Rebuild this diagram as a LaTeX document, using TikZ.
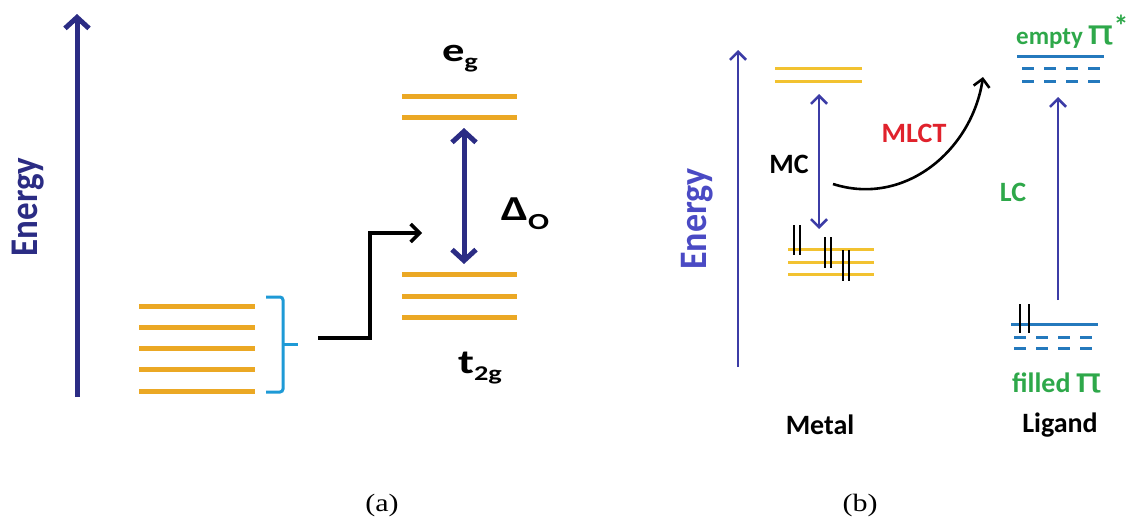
\documentclass[tikz,border=0pt]{standalone}
\usepackage{fontspec}
\setmainfont{Carlito}
\newfontfamily\timesfont{Liberation Serif}
\newfontfamily\pifont{DejaVu Sans}
\usetikzlibrary{arrows.meta}
\definecolor{navyA}{HTML}{2B2C84}
\definecolor{blueB}{HTML}{3C3CA6}
\definecolor{energyB}{HTML}{4A4AC4}
\definecolor{orangeA}{HTML}{EBA824}
\definecolor{yellowB}{HTML}{F2C230}
\definecolor{bracketC}{HTML}{1E9AD6}
\definecolor{ligandC}{HTML}{2479BD}
\definecolor{greenC}{HTML}{2EA84A}
\definecolor{redC}{HTML}{E0222C}
\newcommand{\fsz}[1]{\fontsize{#1}{#1}\selectfont}
\newcommand{\wide}[1]{\scalebox{1.35}[1]{#1}}
\newcommand{\bigpi}{{\pifont\mdseries\fsz{34}\scalebox{1.3}[1]{π}}}
\begin{document}
\begin{tikzpicture}[x=1pt,y=-1pt,
  lvlA/.style={line width=5pt, draw=orangeA},
  lvlB/.style={line width=3pt, draw=yellowB},
  ligsolid/.style={line width=3pt, draw=ligandC},
  ligdash/.style={line width=3pt, draw=ligandC, dash pattern=on 12pt off 10pt},
  bigarrow/.style={line width=5pt, draw=navyA, -{Straight Barb[length=11pt,width=24pt,line width=5pt]}},
  bigdouble/.style={line width=5pt, draw=navyA, {Straight Barb[length=11pt,width=24pt,line width=5pt]}-{Straight Barb[length=11pt,width=24pt,line width=5pt]}},
  thinarrow/.style={line width=2.6pt, draw=blueB, -{Straight Barb[length=8pt,width=16pt,line width=2.6pt]}},
  thindouble/.style={line width=2.6pt, draw=blueB, {Straight Barb[length=8pt,width=16pt,line width=2.6pt]}-{Straight Barb[length=8pt,width=16pt,line width=2.6pt]}},
  blackarrow/.style={line width=3.5pt, draw=black, line join=miter, -{Straight Barb[length=9pt,width=18pt,line width=3.5pt]}},
  epair/.style={line width=2.4pt, draw=black},
  lbl/.style={font=\bfseries\fsz{28}, inner sep=0pt},
  captxt/.style={font=\timesfont\fsz{25}, inner sep=0pt}
]
\useasboundingbox (0,0) rectangle (1130,522);

% ---------------- panel (a) ----------------
\coordinate (enAb) at (77,397);
\coordinate (enAt) at (77,14);
\draw[bigarrow] (enAb) -- (enAt);
\node[rotate=90, font=\bfseries\fsz{35}, text=navyA, inner sep=0pt] (enA) at (28,207) {\scalebox{1}[1.12]{Energy}};

\foreach \yy in {306,327,348,369,391} \draw[lvlA] (139,\yy) -- (255,\yy);
\foreach \yy in {96,117} \draw[lvlA] (402,\yy) -- (517,\yy);
\foreach \yy in {274,296,317} \draw[lvlA] (402,\yy) -- (517,\yy);

\draw[bracketC, line width=3pt, rounded corners=3pt] (266,297) -- (283,297) -- (283,392) -- (266,392);
\coordinate (brk) at (283,344);
\draw[bracketC, line width=3pt] (brk) -- (298,344);

\coordinate (bkS) at (318,338);
\coordinate (bkE) at (422,233);
\draw[blackarrow] (bkS) -- (370,338) -- (370,233) -- (bkE);

\coordinate (dTop) at (464,128);
\coordinate (dBot) at (464,264);
\draw[bigdouble] (dBot) -- (dTop);

\node[font=\bfseries\fsz{33}, inner sep=0pt] (eg) at (460,59) {\wide{e\raisebox{-0.22em}{\fsz{21}g}}};
\node[font=\bfseries\fsz{34}, inner sep=0pt] (t2g) at (480,368) {\wide{t\raisebox{-0.22em}{\fsz{21}2g}}};
\node[font=\bfseries\fsz{35}, inner sep=0pt] (delta) at (525,214) {\wide{\char"0394\raisebox{-0.25em}{\fsz{23}O}}};

% ---------------- panel (b) ----------------
\coordinate (enBb) at (738,367);
\coordinate (enBt) at (738,50);
\draw[thinarrow] (enBb) -- (enBt);
\node[rotate=90, font=\bfseries\fsz{36}, text=energyB, inner sep=0pt] (enB) at (697,219) {\scalebox{1}[1.08]{Energy}};

\foreach \yy in {68,81} \draw[lvlB] (775,\yy) -- (862,\yy);
\foreach \yy in {249,262,274} \draw[lvlB] (788,\yy) -- (874,\yy);

\draw[epair] (794,225) -- (794,255) (800,225) -- (800,255);
\draw[epair] (825,237) -- (825,268) (831,237) -- (831,268);
\draw[epair] (843,250) -- (843,281) (849,250) -- (849,281);

\coordinate (mcT) at (819,94);
\coordinate (mcB) at (819,229);
\draw[thindouble] (mcB) -- (mcT);

\coordinate (mlS) at (833,184);
\coordinate (mlE) at (983,77);
\draw[line width=2.6pt, -{Straight Barb[length=8pt,width=16pt,line width=2.6pt]}] (mlS) .. controls (905,207) and (972,150) .. (mlE);

\draw[ligsolid] (1017,56) -- (1104,56);
\foreach \yy in {68,81} \draw[ligdash] (1022,\yy) -- (1100,\yy);
\draw[ligsolid] (1011,324) -- (1098,324);
\foreach \yy in {337,348} \draw[ligdash] (1014,\yy) -- (1094,\yy);
\draw[epair] (1020,304) -- (1020,333) (1029,304) -- (1029,333);

\coordinate (lcB) at (1058,300);
\coordinate (lcT) at (1058,97);
\draw[thinarrow] (lcB) -- (lcT);

\node[lbl] (mc) at (789,164) {MC};
\node[lbl, text=redC] (mlct) at (914,133) {MLCT};
\node[lbl, text=greenC] (lc) at (1013,192) {LC};
\node[lbl, font=\bfseries\fsz{25}, text=greenC, anchor=base west] (empty) at (1016,44) {empty\,\bigpi\raisebox{0.3em}{\fsz{30}*}};
\node[lbl, text=greenC, anchor=base west] (filled) at (1012,392) {filled\,\bigpi};
\node[lbl] (metal) at (820,425) {Metal};
\node[lbl] (ligand) at (1060,425) {Ligand};

\node[captxt] (capa) at (382,505) {\scalebox{1.2}[1]{(a)}};
\node[captxt] (capb) at (860,505) {\scalebox{1.2}[1]{(b)}};
\end{tikzpicture}
\end{document}
